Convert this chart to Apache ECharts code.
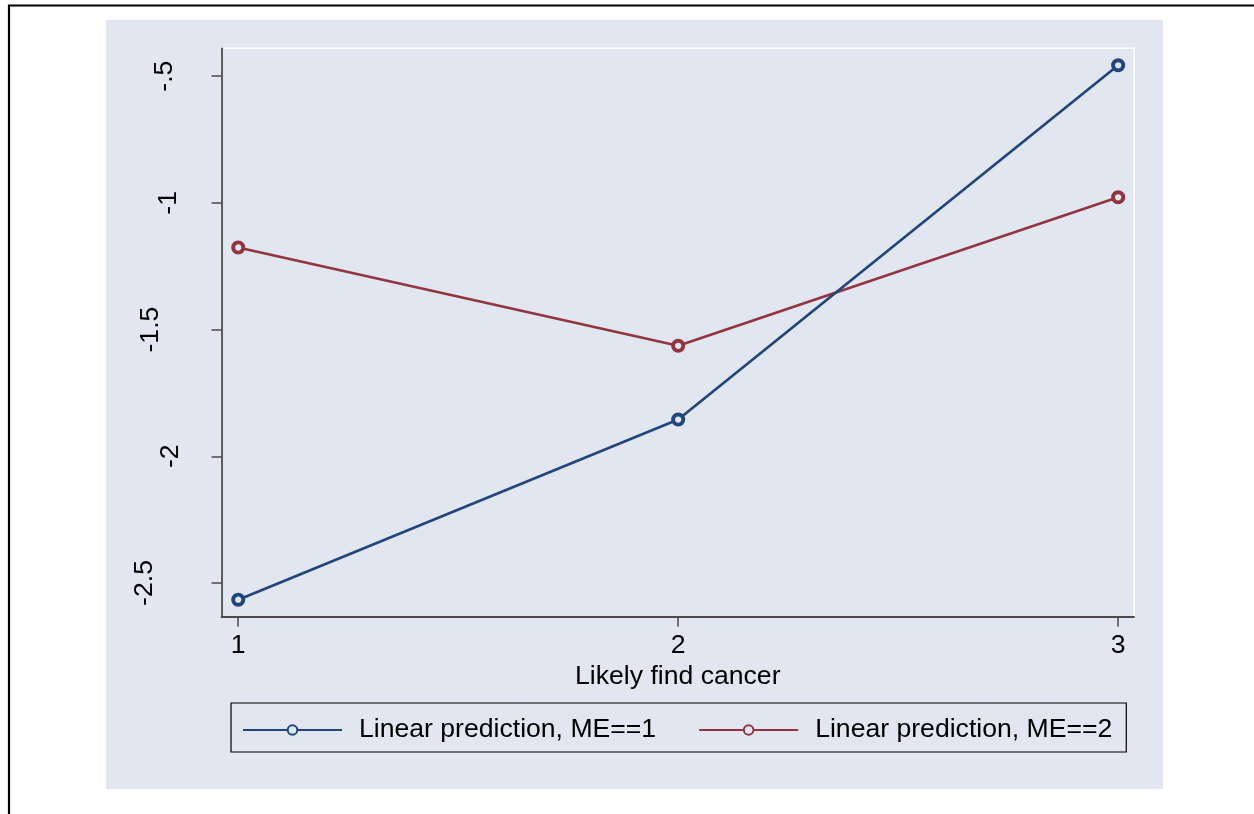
<!DOCTYPE html>
<html>
<head>
<meta charset="utf-8">
<script src="https://cdn.jsdelivr.net/npm/echarts@6/dist/echarts.min.js"></script>
<style>
html,body{margin:0;padding:0;background:#fff;}
#chart{width:1254px;height:814px;}
</style>
</head>
<body>
<div id="chart"></div>
<script>
// ---- data ----
const xValues = [1, 2, 3];
const me1Values = [-2.566, -1.855, -0.457];
const me2Values = [-1.176, -1.564, -0.978];
const seriesNames = ['Linear prediction, ME==1', 'Linear prediction, ME==2'];
const xTickValues = [1, 2, 3];
const xTickLabels = ['1', '2', '3'];
const yTickValues = [-2.5, -2, -1.5, -1, -0.5];
const yTickLabels = ['-2.5', '-2', '-1.5', '-1', '-.5'];
const xTitle = 'Likely find cancer';

// ---- styles ----
const FONT = "'Liberation Sans', Arial, sans-serif";
const FS = 26.6;
const BG = '#E1E6F0';
const BLUE = '#22467B';
const RED = '#923540';
const AXIS = '#4a4a4a';
// per-label extra offset (px) away from the axis, matching the reference layout
const yLabelShift = [26, 0, 20, 2, 6];

const chart = echarts.init(document.getElementById('chart'), null, {renderer: 'canvas'});

const yLabelMap = {};
yTickValues.forEach((v, i) => { yLabelMap[v.toFixed(2)] = i; });
const yRich = {};
yTickLabels.forEach((t, i) => {
  yRich['p' + i] = {fontFamily: FONT, fontSize: FS, color: '#000', padding: [0, 0, yLabelShift[i], 0]};
});

function toPairs(xs, ys) { return xs.map((x, i) => [x, ys[i]]); }

const option = {
  backgroundColor: '#ffffff',
  animation: false,
  graphic: [
    {type: 'rect', z: -10, shape: {x: 9, y: 5.5, width: 1400, height: 1000},
     style: {fill: '#fff', stroke: '#000', lineWidth: 2.2}},
    {type: 'rect', z: -9, shape: {x: 106, y: 20, width: 1057, height: 769},
     style: {fill: BG}}
  ],
  grid: {
    left: 221.5, top: 48.3, width: 912.5, height: 568.4,
    show: true, backgroundColor: BG, borderColor: '#ffffff', borderWidth: 1.5,
    containLabel: false
  },
  legend: {
    left: 231, top: 703,
    padding: [12, 14, 7, 11],
    itemGap: 42,
    itemWidth: 99, itemHeight: 12,
    borderColor: '#000', borderWidth: 1.2,
    backgroundColor: 'transparent',
    textStyle: {fontFamily: FONT, fontSize: FS, color: '#000', padding: [0, 0, 0, 12], lineHeight: 30},
    data: seriesNames
  },
  xAxis: {
    type: 'value', min: 0.962, max: 3.036,
    name: xTitle, nameLocation: 'middle', nameGap: 44,
    nameTextStyle: {fontFamily: FONT, fontSize: FS, color: '#000'},
    splitLine: {show: false},
    axisLine: {show: true, onZero: false, lineStyle: {color: AXIS, width: 1.8}},
    axisTick: {show: true, length: 10, customValues: xTickValues, lineStyle: {color: AXIS, width: 1.5}},
    axisLabel: {
      customValues: xTickValues, margin: 15,
      fontFamily: FONT, fontSize: FS, color: '#000',
      formatter: v => xTickLabels[xTickValues.indexOf(v)]
    }
  },
  yAxis: {
    type: 'value', min: -2.633, max: -0.39,
    splitLine: {show: false},
    axisLine: {show: true, onZero: false, lineStyle: {color: AXIS, width: 1.8}},
    axisTick: {show: true, length: 10, customValues: yTickValues, lineStyle: {color: AXIS, width: 1.5}},
    axisLabel: {
      customValues: yTickValues, margin: 37, rotate: 90,
      fontFamily: FONT, fontSize: FS, color: '#000',
      formatter: v => {
        const i = yLabelMap[Number(v).toFixed(2)];
        return '{p' + i + '|' + yTickLabels[i] + '}';
      },
      rich: yRich
    }
  },
  series: [
    {
      name: seriesNames[0], type: 'line', data: toPairs(xValues, me1Values),
      symbol: 'circle', symbolSize: 10.2,
      lineStyle: {color: BLUE, width: 2.7},
      itemStyle: {color: BG, borderColor: BLUE, borderWidth: 3.9},
      z: 3
    },
    {
      name: seriesNames[1], type: 'line', data: toPairs(xValues, me2Values),
      symbol: 'circle', symbolSize: 10.2,
      lineStyle: {color: RED, width: 2.7},
      itemStyle: {color: BG, borderColor: RED, borderWidth: 3.9},
      z: 2
    }
  ]
};
chart.setOption(option);
</script>
</body>
</html>
